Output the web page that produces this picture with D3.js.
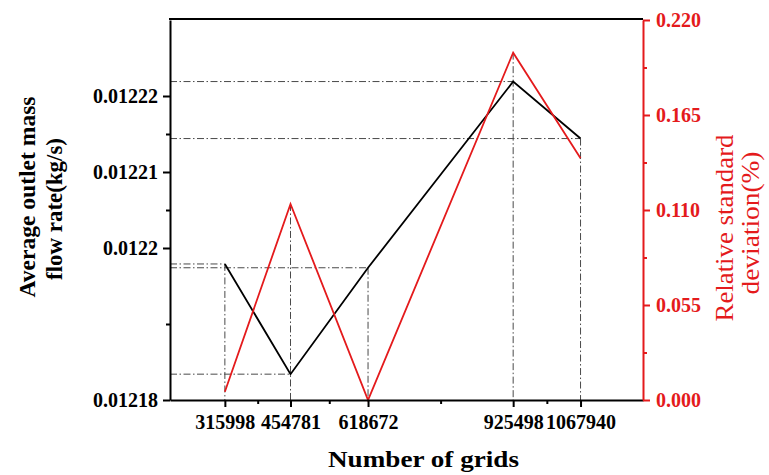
<!DOCTYPE html>
<html>
<head>
<meta charset="utf-8">
<script src="https://cdn.jsdelivr.net/npm/d3@7"></script>
<style>
  html, body { margin: 0; padding: 0; background: #fff; }
  svg { display: block; }
  text { font-family: "Liberation Serif", "Times New Roman", serif; }
</style>
</head>
<body>
<svg id="chart" width="769" height="475"></svg>
<script>
// Grid-independence study: mass flow rate and its relative standard deviation
const grids = [315998, 454781, 618672, 925498, 1067940];
const massFlow = [0.0121979, 0.0121834, 0.0121974, 0.0122219, 0.0122144];
const rsd = [0.0048, 0.1135, 0.0, 0.2011, 0.1399];

const leftTicks = [0.01218, 0.0122, 0.01221, 0.01222];
const leftTickLabels = ["0.01218", "0.0122", "0.01221", "0.01222"];
const leftMinor = [0.01219, 0.012205, 0.012215];
const rightTicks = [0, 0.055, 0.11, 0.165, 0.22];
const rightMinor = [0.0275, 0.0825, 0.1375, 0.1925];

const RED = "#e41a1c";
const REF = "#4a4a4a";

const svg = d3.select("#chart");
const L = 170, R = 643, T = 20, B = 400;

const x = d3.scaleLinear().domain([200000, 1200000]).range([L, R]);
const yL = d3.scaleLinear().domain([0.01218, 0.01223]).range([B, T]);
const yR = d3.scaleLinear().domain([0, 0.22]).range([B, T]);

// minor ticks on the x axis sit halfway between neighbouring grid counts
const xMinor = d3.pairs(grids).map(([a, b]) => (a + b) / 2);

// dash-dot guide lines from the left axis and down to the x axis
const guides = svg.append("g")
  .attr("fill", "none")
  .attr("stroke", REF)
  .attr("stroke-width", 1)
  .attr("stroke-dasharray", "7,2.5,1.5,2.5");
grids.forEach((g, i) => {
  guides.append("line")
    .attr("x1", L).attr("x2", x(g))
    .attr("y1", yL(massFlow[i])).attr("y2", yL(massFlow[i]));
  guides.append("line")
    .attr("x1", x(g)).attr("x2", x(g))
    .attr("y1", Math.min(yL(massFlow[i]), yR(rsd[i]))).attr("y2", B);
});

// data lines
const lineL = d3.line().x((d, i) => x(grids[i])).y(d => yL(d));
const lineR = d3.line().x((d, i) => x(grids[i])).y(d => yR(d));
svg.append("path").datum(massFlow)
  .attr("d", lineL).attr("fill", "none")
  .attr("stroke", "#000").attr("stroke-width", 1.8).attr("stroke-linejoin", "miter");
svg.append("path").datum(rsd)
  .attr("d", lineR).attr("fill", "none")
  .attr("stroke", RED).attr("stroke-width", 1.8).attr("stroke-linejoin", "miter");

// top border
svg.append("line").attr("x1", L - 1).attr("x2", R).attr("y1", T - 1).attr("y2", T - 1)
  .attr("stroke", "#000").attr("stroke-width", 2);

function styleAxis(g, color, size) {
  g.selectAll("path.domain").attr("stroke", color).attr("stroke-width", 2);
  g.selectAll(".tick line").attr("stroke", color).attr("stroke-width", 2);
  g.selectAll(".tick text")
    .attr("fill", color)
    .style("font-size", size + "px")
    .style("font-weight", "bold");
}

// bottom axis
const xAxisG = svg.append("g").attr("transform", `translate(0,${B})`)
  .call(d3.axisBottom(x).tickValues(grids).tickFormat(d3.format("d"))
    .tickSizeInner(7).tickSizeOuter(0).tickPadding(8));
styleAxis(xAxisG, "#000", 20);
const xMinorG = svg.append("g").attr("transform", `translate(0,${B})`)
  .call(d3.axisBottom(x).tickValues(xMinor).tickFormat("").tickSize(4));
xMinorG.select("path.domain").remove();
xMinorG.selectAll(".tick line").attr("stroke", "#000").attr("stroke-width", 2);

// left axis
const yLAxisG = svg.append("g").attr("transform", `translate(${L},0)`)
  .call(d3.axisLeft(yL).tickValues(leftTicks)
    .tickFormat((d, i) => leftTickLabels[i])
    .tickSizeInner(7).tickSizeOuter(0).tickPadding(5));
styleAxis(yLAxisG, "#000", 20);
const yLMinorG = svg.append("g").attr("transform", `translate(${L},0)`)
  .call(d3.axisLeft(yL).tickValues(leftMinor).tickFormat("").tickSize(4));
yLMinorG.select("path.domain").remove();
yLMinorG.selectAll(".tick line").attr("stroke", "#000").attr("stroke-width", 2);

// right axis
const yRAxisG = svg.append("g").attr("transform", `translate(${R},0)`)
  .call(d3.axisRight(yR).tickValues(rightTicks).tickFormat(d3.format(".3f"))
    .tickSizeInner(7).tickSizeOuter(0).tickPadding(6));
styleAxis(yRAxisG, RED, 20);
const yRMinorG = svg.append("g").attr("transform", `translate(${R},0)`)
  .call(d3.axisRight(yR).tickValues(rightMinor).tickFormat("").tickSize(4));
yRMinorG.select("path.domain").remove();
yRMinorG.selectAll(".tick line").attr("stroke", RED).attr("stroke-width", 2);

// axis titles
svg.append("text")
  .attr("x", 423.5).attr("y", 467)
  .attr("text-anchor", "middle")
  .style("font-size", "23px").style("font-weight", "bold")
  .attr("textLength", 191).attr("lengthAdjust", "spacingAndGlyphs")
  .text("Number of grids");

svg.append("text")
  .attr("transform", "translate(35,197) rotate(-90)")
  .attr("text-anchor", "middle")
  .style("font-size", "24px").style("font-weight", "bold")
  .attr("textLength", 201).attr("lengthAdjust", "spacingAndGlyphs")
  .text("Average outlet mass");
svg.append("text")
  .attr("transform", "translate(62,209) rotate(-90)")
  .attr("text-anchor", "middle")
  .style("font-size", "24px").style("font-weight", "bold")
  .attr("textLength", 142).attr("lengthAdjust", "spacingAndGlyphs")
  .text("flow rate(kg/s)");

svg.append("text")
  .attr("transform", "translate(733,228) rotate(-90)")
  .attr("text-anchor", "middle")
  .attr("fill", RED)
  .style("font-size", "26px")
  .attr("textLength", 187).attr("lengthAdjust", "spacingAndGlyphs")
  .text("Relative standard");
svg.append("text")
  .attr("transform", "translate(759,223) rotate(-90)")
  .attr("text-anchor", "middle")
  .attr("fill", RED)
  .style("font-size", "26px")
  .attr("textLength", 143).attr("lengthAdjust", "spacingAndGlyphs")
  .text("deviation(%)");
</script>
</body>
</html>
